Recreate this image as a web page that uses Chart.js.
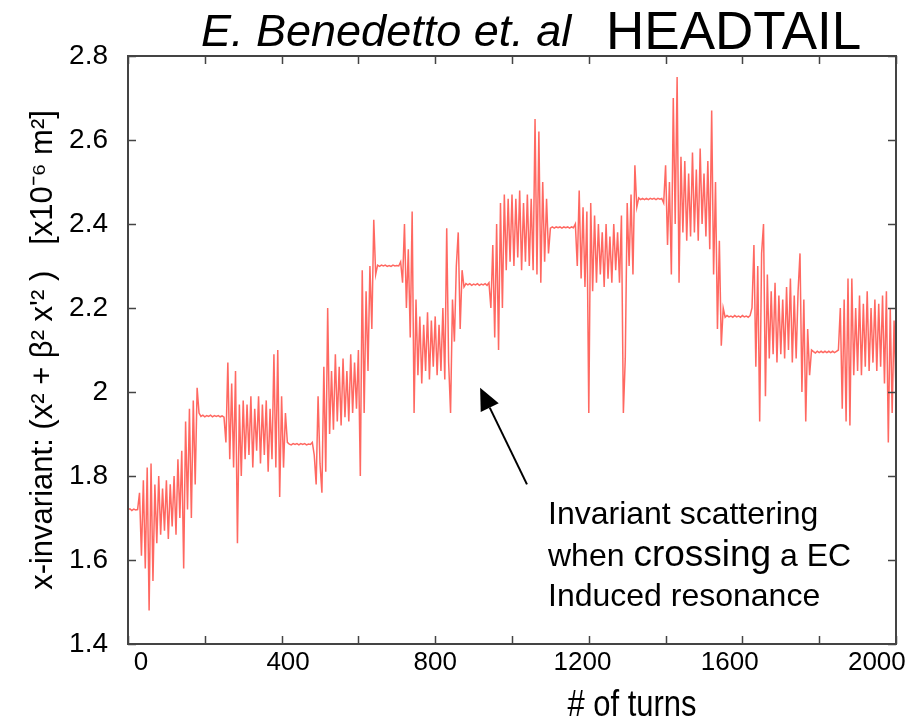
<!DOCTYPE html>
<html>
<head>
<meta charset="utf-8">
<script src="https://cdn.jsdelivr.net/npm/chart.js@4.4.1/dist/chart.umd.min.js"></script>
<style>
  html, body { margin: 0; padding: 0; background: #fff; }
  #wrap { width: 923px; height: 721px; position: relative; }
</style>
</head>
<body>
<div id="wrap"><canvas id="invariantChart"></canvas></div>
<script>
// x-invariant, one value every 5 turns (0..2000)
const TURN_STEP = 5;
const invariant = [
  1.72, 1.722, 1.718, 1.721, 1.719, 1.72, 1.76, 1.61, 1.79, 1.58,
  1.82, 1.48, 1.83, 1.55, 1.78, 1.64, 1.80, 1.66, 1.77, 1.67,
  1.79, 1.65, 1.78, 1.68, 1.80, 1.66, 1.84, 1.70, 1.86, 1.58,
  1.93, 1.72, 1.96, 1.70, 1.98, 1.78, 2.01, 1.95, 1.942, 1.945,
  1.941, 1.944, 1.942, 1.945, 1.941, 1.944, 1.942, 1.944, 1.941, 1.943,
  1.94, 1.88, 2.07, 1.84, 2.02, 1.82, 2.05, 1.64, 1.97, 1.80,
  1.98, 1.84, 1.97, 1.85, 1.99, 1.82, 1.96, 1.86, 1.99, 1.83,
  1.97, 1.85, 1.98, 1.81, 1.96, 1.84, 2.09, 1.82, 2.10, 1.75,
  1.99, 1.82, 1.95, 1.88, 1.876, 1.874, 1.877, 1.875, 1.877, 1.874,
  1.877, 1.875, 1.877, 1.874, 1.876, 1.875, 1.88, 1.85, 1.78, 1.99,
  1.83, 1.76, 2.06, 1.81, 2.20, 1.90, 2.05, 1.91, 2.09, 1.93,
  2.06, 1.92, 2.08, 1.94, 2.05, 1.93, 2.09, 1.95, 2.07, 1.96,
  2.10, 1.80, 2.29, 1.95, 2.24, 2.05, 2.30, 2.15, 2.41, 2.28,
  2.302, 2.299, 2.302, 2.3, 2.302, 2.299, 2.301, 2.299, 2.302, 2.3,
  2.301, 2.3, 2.31, 2.26, 2.40, 2.20, 2.34, 2.13, 2.43, 1.95,
  2.22, 2.04, 2.18, 2.02, 2.16, 2.05, 2.19, 2.03, 2.17, 2.06,
  2.18, 2.04, 2.16, 2.05, 2.20, 2.03, 2.39, 2.07, 1.95, 2.22,
  2.12, 2.30, 2.38, 2.15, 2.29, 2.25, 2.258, 2.255, 2.258, 2.254,
  2.257, 2.255, 2.258, 2.254, 2.257, 2.255, 2.258, 2.254, 2.26, 2.20,
  2.35, 2.13, 2.40, 2.10, 2.45, 2.20, 2.47, 2.29, 2.46, 2.31,
  2.47, 2.30, 2.46, 2.32, 2.48, 2.29, 2.45, 2.31, 2.47, 2.30,
  2.46, 2.29, 2.65, 2.28, 2.62, 2.26, 2.50, 2.31, 2.46, 2.33,
  2.39, 2.393, 2.39, 2.393, 2.391, 2.393, 2.39, 2.393, 2.391, 2.393,
  2.39, 2.393, 2.391, 2.40, 2.30, 2.48, 2.27, 2.44, 2.25, 2.43,
  1.95, 2.45, 2.24, 2.42, 2.26, 2.40, 2.28, 2.38, 2.25, 2.40,
  2.27, 2.37, 2.26, 2.40, 2.29, 2.38, 2.26, 2.42, 1.95, 2.08,
  2.45, 2.30, 2.47, 2.28, 2.54, 2.44, 2.462, 2.458, 2.461, 2.458,
  2.461, 2.458, 2.461, 2.459, 2.461, 2.458, 2.461, 2.459, 2.461, 2.45,
  2.54, 2.35, 2.50, 2.28, 2.70, 2.40, 2.75, 2.26, 2.56, 2.38,
  2.55, 2.36, 2.52, 2.37, 2.57, 2.38, 2.53, 2.36, 2.58, 2.40,
  2.52, 2.37, 2.55, 2.34, 2.67, 2.28, 2.50, 2.15, 2.36, 2.11,
  2.20, 2.178, 2.182, 2.179, 2.181, 2.178, 2.182, 2.179, 2.181, 2.178,
  2.182, 2.179, 2.181, 2.178, 2.182, 2.20, 2.35, 2.06, 2.30, 1.93,
  2.33, 2.40, 1.99, 2.28, 2.08, 2.24, 2.09, 2.26, 2.07, 2.23,
  2.09, 2.22, 2.08, 2.25, 2.10, 2.27, 2.07, 2.23, 2.08, 2.24,
  2.33, 2.00, 2.22, 1.93, 2.15, 2.04, 2.10, 2.096, 2.093, 2.097,
  2.094, 2.097, 2.094, 2.097, 2.094, 2.097, 2.094, 2.097, 2.094, 2.097,
  2.10, 2.20, 1.96, 2.22, 1.93, 2.27, 1.92, 2.27, 2.04, 2.20,
  2.05, 2.23, 2.04, 2.21, 2.06, 2.24, 2.05, 2.20, 2.07, 2.22,
  2.05, 2.21, 2.06, 2.23, 2.02, 2.24, 1.88, 2.20, 1.95, 2.17,
  2.00
];
const turns = invariant.map((_, i) => i * TURN_STEP);

const xTickLabels = [0, 400, 800, 1200, 1600, 2000];
const xTickMarks = [0, 200, 400, 600, 800, 1000, 1200, 1400, 1600, 1800, 2000];
const yTickLabels = [1.4, 1.6, 1.8, 2, 2.2, 2.4, 2.6, 2.8];

// arrow from the note to the resonance crossing (turns, invariant)
const arrowTail = { x: 1039, y: 1.78 };
const arrowHead = { x: 917, y: 2.01 };

const SANS = '"Liberation Sans", Arial, sans-serif';

const frameAndNotes = {
  id: "frameAndNotes",
  afterDatasetsDraw(chart) {
    const { ctx, chartArea: a, scales: { x, y } } = chart;
    ctx.save();
    ctx.strokeStyle = "#444";
    ctx.lineWidth = 2;
    ctx.strokeRect(a.left, a.top, a.right - a.left, a.bottom - a.top);
    ctx.beginPath();
    xTickMarks.forEach((v) => {
      const px = Math.round(x.getPixelForValue(v)) + 0.5;
      ctx.moveTo(px, a.bottom); ctx.lineTo(px, a.bottom - 8);
      ctx.moveTo(px, a.top); ctx.lineTo(px, a.top + 8);
    });
    yTickLabels.forEach((v) => {
      const py = Math.round(y.getPixelForValue(v)) + 0.5;
      ctx.moveTo(a.left, py); ctx.lineTo(a.left + 8, py);
      ctx.moveTo(a.right, py); ctx.lineTo(a.right - 8, py);
    });
    ctx.lineWidth = 1.5;
    ctx.stroke();

    // arrow
    const tx = x.getPixelForValue(arrowTail.x), ty = y.getPixelForValue(arrowTail.y);
    const hx = x.getPixelForValue(arrowHead.x), hy = y.getPixelForValue(arrowHead.y);
    const ang = Math.atan2(ty - hy, tx - hx);
    const len = 22, half = 10;
    const bx = hx + Math.cos(ang) * len, by = hy + Math.sin(ang) * len;
    ctx.strokeStyle = "#000";
    ctx.lineWidth = 2;
    ctx.beginPath();
    ctx.moveTo(tx, ty);
    ctx.lineTo(bx, by);
    ctx.stroke();
    ctx.fillStyle = "#000";
    ctx.beginPath();
    ctx.moveTo(hx, hy);
    ctx.lineTo(bx - Math.sin(ang) * half, by + Math.cos(ang) * half);
    ctx.lineTo(bx + Math.sin(ang) * half, by - Math.cos(ang) * half);
    ctx.closePath();
    ctx.fill();

    // note text
    ctx.fillStyle = "#000";
    ctx.textBaseline = "alphabetic";
    ctx.textAlign = "left";
    const nx = 548;
    ctx.font = "32px " + SANS;
    ctx.fillText("Invariant scattering", nx, 524);
    let cx = nx;
    ctx.fillText("when ", cx, 566);
    cx += ctx.measureText("when ").width;
    ctx.font = "37px " + SANS;
    ctx.fillText("crossing", cx, 566);
    cx += ctx.measureText("crossing").width;
    ctx.font = "32px " + SANS;
    ctx.fillText(" a EC", cx, 566);
    ctx.fillText("Induced resonance", nx, 606);
    ctx.restore();
  },
  afterDraw(chart) {
    const { ctx } = chart;
    ctx.save();
    ctx.fillStyle = "#000";
    ctx.textBaseline = "alphabetic";
    ctx.textAlign = "left";
    ctx.font = "italic 45px " + SANS;
    ctx.fillText("E. Benedetto et. al", 201, 46);
    ctx.font = "53px " + SANS;
    ctx.fillText("HEADTAIL", 606, 49);
    // axis title, set narrow like the slide font
    ctx.translate(632, 716);
    ctx.scale(0.86, 1);
    ctx.font = "36px " + SANS;
    ctx.textAlign = "center";
    ctx.fillText("# of turns", 0, 0);
    ctx.restore();
  }
};

new Chart(document.getElementById("invariantChart"), {
  type: "line",
  data: {
    datasets: [
      {
        data: turns.map((t, i) => ({ x: t, y: invariant[i] })),
        borderColor: "rgba(255, 40, 30, 0.7)",
        borderWidth: 1.5,
        pointRadius: 0,
        tension: 0,
        fill: false,
      },
    ],
  },
  options: {
    responsive: true,
    maintainAspectRatio: false,
    animation: false,
    devicePixelRatio: 1,
    layout: { padding: { top: 56, right: 27, left: 0, bottom: 0 } },
    plugins: { legend: { display: false }, tooltip: { enabled: false } },
    scales: {
      x: { type: "linear", min: 0, max: 2000, display: false },
      xl: {
        type: "linear",
        position: "bottom",
        min: -35,
        max: 2052,
        afterBuildTicks: (s) => { s.ticks = xTickLabels.map((v) => ({ value: v })); },
        afterFit: (s) => { s.height = 77; },
        grid: { display: false, drawTicks: false },
        border: { display: false },
        ticks: {
          padding: 3,
          autoSkip: false,
          maxRotation: 0,
          color: "#000",
          font: { family: SANS, size: 26 },
          callback: (v) => String(v),
        },
      },
      y: {
        type: "linear",
        min: 1.4,
        max: 2.8,
        afterBuildTicks: (s) => { s.ticks = yTickLabels.map((v) => ({ value: v })); },
        afterFit: (s) => { s.width = 128; },
        grid: { display: false, drawTicks: false },
        border: { display: false },
        ticks: {
          padding: 20,
          color: "#000",
          font: { family: SANS, size: 28 },
          callback: (v) => String(v),
        },
        title: {
          display: true,
          text: "x-invariant: (x\u00B2 + \u03B2\u00B2 x'\u00B2 )   [x10\u207B\u2076 m\u00B2]",
          color: "#000",
          font: { family: SANS, size: 31 },
          padding: { top: 25, bottom: 0 },
        },
      },
    },
  },
  plugins: [frameAndNotes],
});
</script>
</body>
</html>
